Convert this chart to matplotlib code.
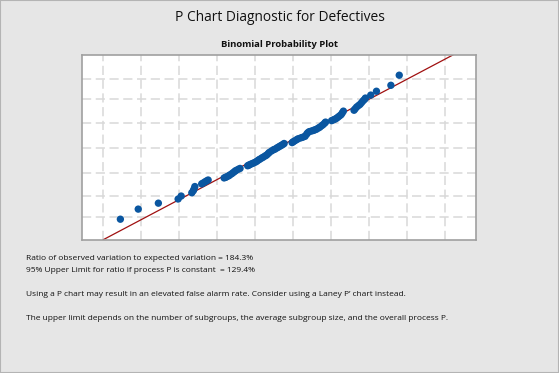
from statistics import NormalDist

import matplotlib
matplotlib.use("Agg")
import matplotlib.pyplot as plt
from matplotlib.patches import Rectangle

obs_x = [0.45, 0.92, 1.45, 1.97, 2.05, 2.33, 2.37, 2.39, 2.41, 2.59, 2.63, 2.68, 2.72, 2.76,
         3.18, 3.22, 3.25, 3.30, 3.33, 3.38, 3.42, 3.46, 3.49, 3.55, 3.60,
         3.80, 3.83, 3.86, 3.91, 3.95, 4.00, 4.04, 4.08, 4.12, 4.17, 4.21, 4.26,
         4.30, 4.34, 4.37, 4.43, 4.48, 4.52, 4.57, 4.61, 4.65, 4.69, 4.73, 4.76,
         4.97, 5.00, 5.04, 5.09, 5.13, 5.20, 5.25, 5.31, 5.35, 5.38, 5.42, 5.48,
         5.53, 5.57, 5.61, 5.66, 5.70, 5.75, 5.79, 5.83, 5.85,
         6.01, 6.06, 6.10, 6.14, 6.18, 6.22, 6.26, 6.29, 6.32,
         6.60, 6.63, 6.67, 6.72, 6.76, 6.80, 6.84, 6.88, 6.90,
         7.04, 7.19, 7.57, 7.79]
obs_z = [-2.41, -2.07, -1.87, -1.73, -1.63, -1.52, -1.45, -1.39, -1.31, -1.22, -1.19, -1.15, -1.12, -1.09,
         -1.02, -1.00, -0.98, -0.95, -0.92, -0.88, -0.84, -0.80, -0.77, -0.73, -0.70,
         -0.61, -0.59, -0.57, -0.54, -0.52, -0.49, -0.46, -0.42, -0.39, -0.35, -0.32, -0.28,
         -0.25, -0.20, -0.16, -0.11, -0.07, -0.05, -0.01, 0.02, 0.05, 0.08, 0.11, 0.14,
         0.17, 0.20, 0.23, 0.27, 0.30, 0.33, 0.35, 0.38, 0.45, 0.50, 0.54, 0.56,
         0.58, 0.60, 0.62, 0.66, 0.69, 0.74, 0.78, 0.83, 0.86,
         0.91, 0.94, 0.96, 0.99, 1.03, 1.07, 1.11, 1.17, 1.23,
         1.26, 1.31, 1.37, 1.42, 1.46, 1.52, 1.58, 1.63, 1.67,
         1.77, 1.90, 2.10, 2.44]

# reference line
line_x = [0.0, 9.2]
line_z = [-3.10, 3.12]

grid_x = list(range(10))
grid_pct = [1, 5, 20, 50, 80, 95, 99]

info_lines = [
    "Ratio of observed variation to expected variation = 184.3%",
    "95% Upper Limit for ratio if process P is constant  = 129.4%",
    "",
    "Using a P chart may result in an elevated false alarm rate. Consider using a Laney P\u2019 chart instead.",
    "",
    "The upper limit depends on the number of subgroups, the average subgroup size, and the overall process P.",
]

plt.rcParams['font.family'] = ['Open Sans', 'DejaVu Sans']

fig = plt.figure(figsize=(5.59, 3.73), dpi=100)
fig.patch.set_facecolor("#e6e6e6")
fig.patches.append(Rectangle((0, 0), 1, 1, transform=fig.transFigure, fill=False,
                             edgecolor="#b4b4b4", linewidth=1.5))

ax = fig.add_axes([0.1467, 0.3566, 0.7048, 0.4959])
ax.set_facecolor("white")

nd = NormalDist()
ax.set_xticks(grid_x)
ax.set_yticks([nd.inv_cdf(p / 100) for p in grid_pct])
ax.tick_params(length=0, labelbottom=False, labelleft=False)
ax.grid(True, color="#d8d8d8", linestyle=(0, (6, 3)), linewidth=1.1)
ax.set_axisbelow(True)
for s in ax.spines.values():
    s.set_color("#a0a0a0")
    s.set_linewidth(1.2)

ax.plot(line_x, line_z, color="#a01010", linewidth=0.9, zorder=2)
ax.scatter(obs_x, obs_z, s=28, color="#0a56a0", edgecolors="none", zorder=3)

ax.set_xlim(-0.56, 9.81)
ax.set_ylim(-3.11, 3.12)

fig.text(0.5, 0.953, "P Chart Diagnostic for Defectives", ha="center", va="center",
         fontsize=9.9, color="#111111")
fig.text(0.5, 0.882, "Binomial Probability Plot", ha="center", va="center",
         fontsize=6.8, fontweight="bold", color="#111111")

y0 = 1 - 258.5 / 373
for i, t in enumerate(info_lines):
    if t:
        fig.text(26 / 559, y0 - i * 12 / 373, t, ha="left", va="center",
                 fontsize=6, color="#111111")

fig.savefig("out.png", dpi=100, facecolor=fig.get_facecolor())
